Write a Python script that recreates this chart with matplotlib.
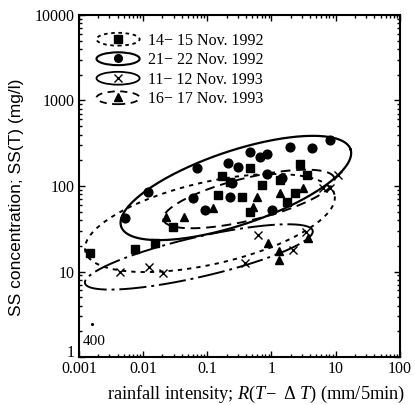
import numpy as np
import matplotlib
matplotlib.use('Agg')
import matplotlib.pyplot as plt
from matplotlib.patches import Ellipse
from matplotlib.lines import Line2D
from matplotlib.legend_handler import HandlerPatch, HandlerTuple
from matplotlib.ticker import FixedLocator, FixedFormatter, LogLocator, NullFormatter
from matplotlib.transforms import ScaledTranslation

# ---------------- data ----------------
labels = ["14\u2212 15 Nov. 1992", "21\u2212 22 Nov. 1992",
          "11\u2212 12 Nov. 1993", "16\u2212 17 Nov. 1993"]

sq_x = [0.00148, 0.00745, 0.0153, 0.0291, 0.169, 0.461, 0.146, 0.346, 0.461,
        2.77, 3.56, 1.35, 2.31, 1.74, 0.71, 0.225]
sq_y = [16.5, 18.3, 21.5, 33.1, 131, 162, 78.5, 74.3, 49.6,
        181, 135, 117, 82.8, 65, 103, 111]

ci_x = [0.0052, 0.0689, 0.209, 0.461, 0.659, 0.848, 0.30, 0.848, 0.241, 0.225,
        1.45, 0.0918, 0.0597, 1.01, 1.94, 4.26, 8.12, 0.0119]
ci_y = [42.2, 162, 186, 250, 218, 237, 167, 138, 108, 74.3,
        124, 52.3, 72.4, 52.3, 286, 278, 345, 85]

cr_x = [0.00435, 0.0123, 0.0203, 0.385, 0.614, 2.15, 3.43, 10.8, 6.32, 8.13]
cr_y = [9.87, 11.3, 9.6, 12.6, 26.7, 17.8, 29, 135, 94.8, 94.8]

tr_x = [0.0226, 0.0432, 0.122, 0.593, 0.513, 1.35, 3.08, 0.88, 1.30, 1.30, 3.69]
tr_y = [43.4, 43.4, 55.3, 74.3, 56.8, 82.8, 94.8, 21.5, 17.4, 13.6, 24.7]

odd_x = [0.0016]
odd_y = [2.43]
odd_label = "400"

# ellipse outlines: centre (x, y), semi-axes (decades), tilt (deg)
ell_cx = [0.11, 0.279, 0.074, 0.445]
ell_cy = [36.9, 94.8, 14.8, 70.5]
ell_a = [1.99, 1.885, 1.82, 1.37]
ell_b = [0.64, 0.576, 0.31, 0.33]
ell_ang = [12.8, 18.6, 13.0, 13.7]

x_ticks = [0.001, 0.01, 0.1, 1, 10, 100]
x_ticklabels = ["0.001", "0.01", "0.1", "1", "10", "100"]
y_ticks = [1, 10, 100, 1000, 10000]
y_ticklabels = ["1", "10", "100", "1000", "10000"]

# ---------------- styling ----------------
plt.rcParams['font.family'] = ['Liberation Serif', 'DejaVu Serif']
plt.rcParams['mathtext.fontset'] = 'custom'
plt.rcParams['mathtext.rm'] = 'Liberation Serif'
plt.rcParams['mathtext.it'] = 'Liberation Serif:italic'

fig = plt.figure(figsize=(4.15, 4.05), dpi=100)
ax = fig.add_axes([0.19, 0.1185, 0.7735, 0.8445])
ax.set_xscale('log')
ax.set_yscale('log')
ax.set_xlim(0.001, 100)
ax.set_ylim(1, 10000)

X_DEC = 0.7735 * 415 / 5
Y_DEC = 0.8445 * 405 / 4


def ellipse_xy(cx, cy, a, b, ang):
    t = np.linspace(0, 2 * np.pi, 500)
    th = np.deg2rad(ang)
    u = a * np.cos(t)
    v = b * np.sin(t)
    dx = u * np.cos(th) - v * np.sin(th)
    dy = u * np.sin(th) + v * np.cos(th)
    return 10 ** (np.log10(cx) + dx), 10 ** (np.log10(cy) + dy * X_DEC / Y_DEC)


styles = [dict(ls=(0, (2.2, 2.6)), lw=1.4),
          dict(ls='-', lw=1.6),
          dict(ls=(0, (14, 2.5, 1.5, 2.5)), lw=1.4),
          dict(ls=(0, (5, 3)), lw=1.4)]
for i in range(4):
    ex, ey = ellipse_xy(ell_cx[i], ell_cy[i], ell_a[i], ell_b[i], ell_ang[i])
    ax.plot(ex, ey, color='black', **styles[i])

ax.plot(sq_x, sq_y, ls='none', marker='s', ms=6, color='black')
ax.plot(ci_x, ci_y, ls='none', marker='o', ms=6.3, color='black')
ax.plot(cr_x, cr_y, ls='none', marker='x', ms=6, mew=1.0, color='black')
ax.plot(tr_x, tr_y, ls='none', marker='^', ms=6, color='black')
ax.plot(odd_x, odd_y, ls='none', marker='.', ms=2.5, color='black')
ax.text(0.00115, 1.5, odd_label, fontsize=11, ha='left', va='center')

# ticks
ax.xaxis.set_major_locator(FixedLocator(x_ticks))
ax.xaxis.set_major_formatter(FixedFormatter(x_ticklabels))
ax.yaxis.set_major_locator(FixedLocator(y_ticks))
ax.yaxis.set_major_formatter(FixedFormatter(y_ticklabels))
ax.xaxis.set_minor_locator(LogLocator(base=10, subs=np.arange(2, 10)))
ax.yaxis.set_minor_locator(LogLocator(base=10, subs=np.arange(2, 10)))
ax.xaxis.set_minor_formatter(NullFormatter())
ax.yaxis.set_minor_formatter(NullFormatter())
ax.tick_params(which='both', direction='in', top=True, right=True, width=1.0)
ax.tick_params(which='major', length=4, labelsize=11.5, pad=3)
ax.tick_params(which='minor', length=2.2)
for s in ax.spines.values():
    s.set_linewidth(1.5)

# raise the "1" label a little so it clears the x tick labels (as in the original)
fig.canvas.draw()
lab1 = ax.yaxis.get_major_ticks()[0].label1
lab1.set_transform(lab1.get_transform() + ScaledTranslation(0, 4 / 72, fig.dpi_scale_trans))

ax.set_xlabel(r"rainfall intensity; $R(T\!-\ \Delta\ T)$ (mm/5min)", fontsize=13.2, labelpad=2)
ax.xaxis.set_label_coords(0.553, -0.078)
ax.set_ylabel("SS concentration; SS(T) (mg/l)", fontsize=12.5, family='Liberation Sans')
ax.yaxis.set_label_coords(-0.172, 0.468)

# legend
proxies = []
mk = ['s', 'o', 'x', '^']
leg_styles = [dict(ls=(0, (2.0, 2.0)), lw=1.3), dict(ls='-', lw=1.5),
              dict(ls='-', lw=1.3), dict(ls=(0, (4, 3)), lw=1.3)]
for i in range(4):
    e = Ellipse((0, 0), 1, 1, fill=False, edgecolor='black', **leg_styles[i])
    m = Line2D([], [], ls='none', marker=mk[i], ms=5.5, color='black')
    proxies.append((e, m))


def make_ell(legend, orig_handle, xdescent, ydescent, width, height, fontsize):
    return Ellipse((0.5 * width - xdescent, 0.5 * height - ydescent), width, height * 1.05)


leg = ax.legend(proxies, labels, loc='upper left', bbox_to_anchor=(0.055, 0.948),
                frameon=False, fontsize=11.5, numpoints=1, handlelength=2.7,
                handleheight=0.8, handletextpad=0.5, labelspacing=0.22,
                borderaxespad=0, borderpad=0,
                handler_map={tuple: HandlerTuple(ndivide=1),
                             Ellipse: HandlerPatch(patch_func=make_ell)})

fig.savefig('out.png', dpi=100)
